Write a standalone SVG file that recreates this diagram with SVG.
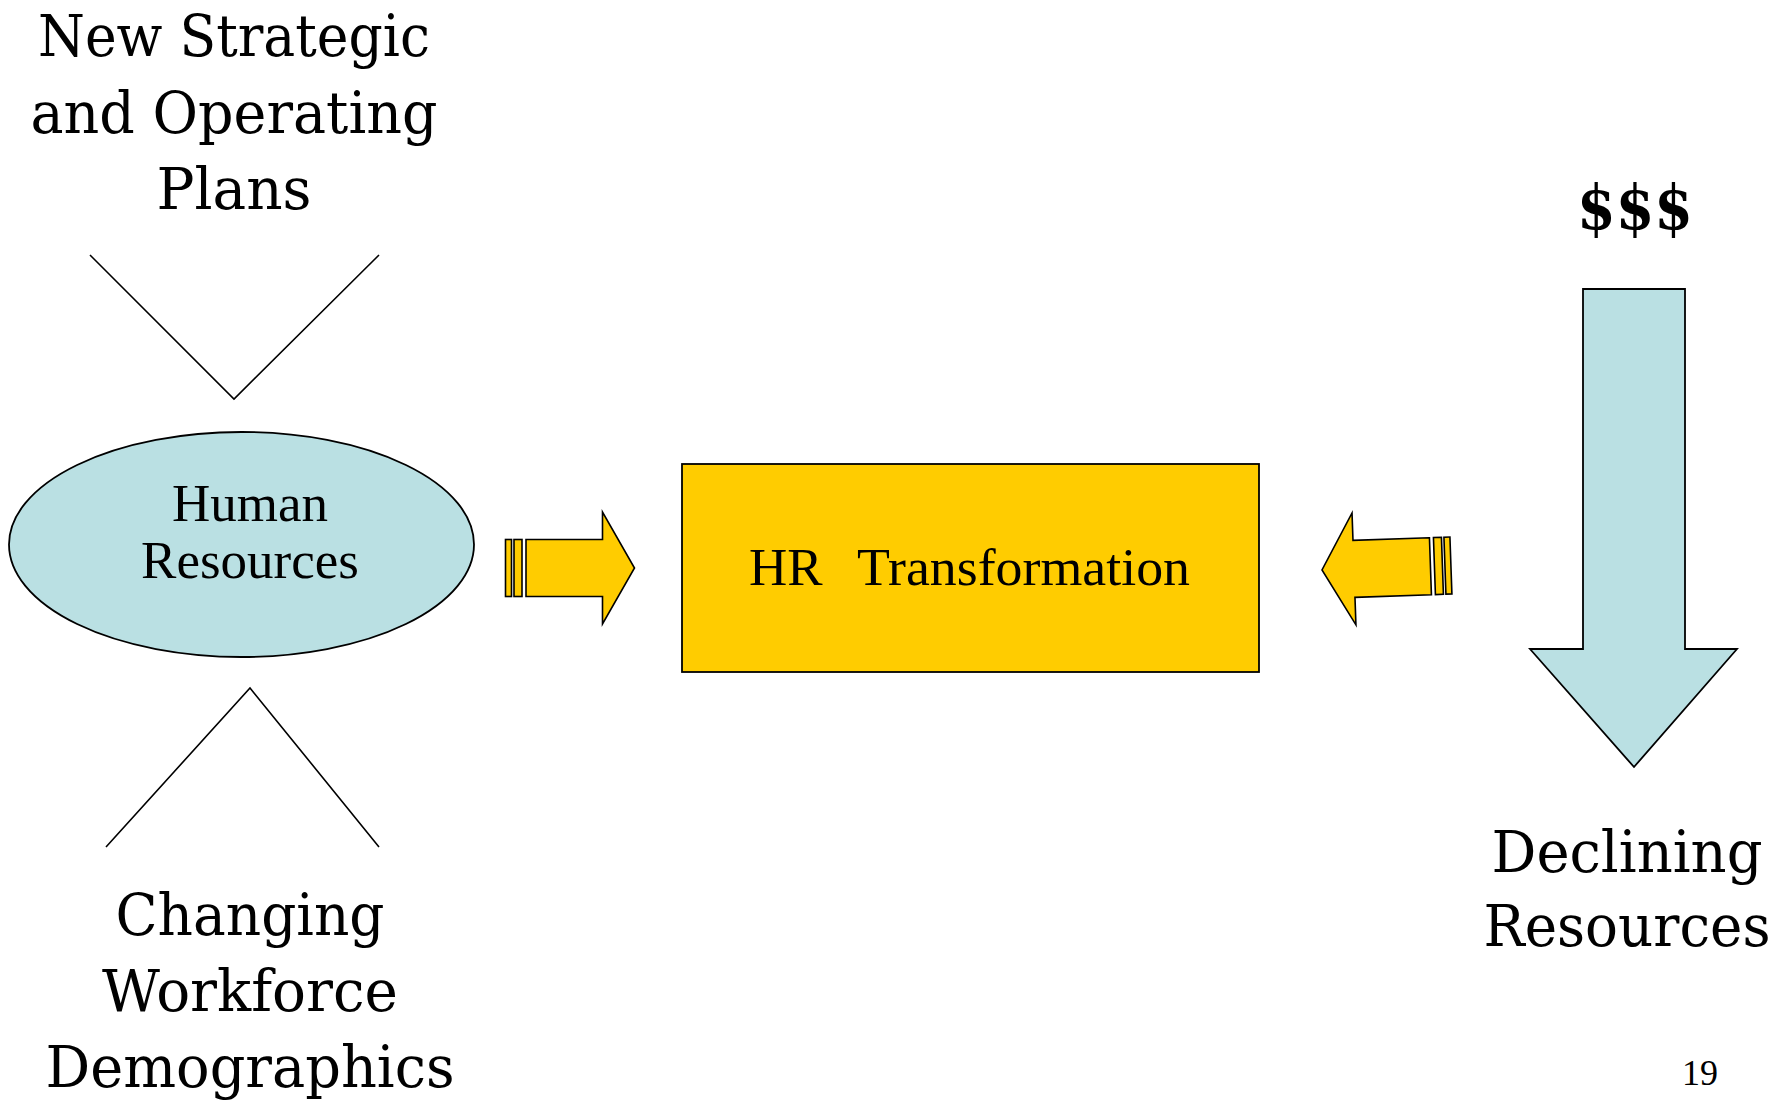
<svg xmlns="http://www.w3.org/2000/svg" width="1788" height="1103" viewBox="0 0 1788 1103">
<style>
.big{font-family:"DejaVu Serif",serif;font-size:57px;fill:#000;text-anchor:middle}
.tm{font-family:"Liberation Serif",serif;font-size:53px;fill:#000}
.ln{fill:none;stroke:#000;stroke-width:1.6}
.yel{fill:#FFCC00;stroke:#000;stroke-width:1.6;stroke-linejoin:miter}
.blu{fill:#BAE0E3;stroke:#000;stroke-width:1.8}
</style>
<defs>
<g id="fatArrow">
<rect x="-129" y="-28.5" width="6" height="57" class="yel"/>
<rect x="-120.5" y="-28.5" width="8" height="57" class="yel"/>
<path d="M-108.5,-28.5 H-32 V-56 L0,0 L-32,56 V28.5 H-108.5 Z" class="yel"/>
</g>
</defs>
<rect width="1788" height="1103" fill="#fff"/>
<g id="plans">
<text class="big" x="234" y="56" textLength="392" lengthAdjust="spacingAndGlyphs">New Strategic</text>
<text class="big" x="234" y="133" textLength="407" lengthAdjust="spacingAndGlyphs">and Operating</text>
<text class="big" x="234" y="209" textLength="155" lengthAdjust="spacingAndGlyphs">Plans</text>
</g>
<g id="demographics">
<text class="big" x="250" y="935" textLength="269" lengthAdjust="spacingAndGlyphs">Changing</text>
<text class="big" x="250" y="1011" textLength="296" lengthAdjust="spacingAndGlyphs">Workforce</text>
<text class="big" x="250" y="1087" textLength="409" lengthAdjust="spacingAndGlyphs">Demographics</text>
</g>
<g id="human-resources">
<ellipse cx="241.5" cy="544.5" rx="232.5" ry="112.5" class="blu"/>
<text class="tm" x="250" y="521" text-anchor="middle">Human</text>
<text class="tm" x="250" y="578" text-anchor="middle">Resources</text>
</g>
<g id="hr-transformation">
<rect x="682" y="464" width="577" height="208" fill="#FFCC00" stroke="#000" stroke-width="1.8"/>
<text class="tm" y="585"><tspan x="749">HR</tspan></text>
<text class="tm" y="585" x="857" textLength="333" lengthAdjust="spacingAndGlyphs">Transformation</text>
</g>
<g id="money">
<text x="1635" y="229" font-family="DejaVu Serif, serif" font-weight="bold" font-size="62" text-anchor="middle" textLength="116" lengthAdjust="spacingAndGlyphs">$$$</text>
</g>
<g id="declining">
<text class="big" x="1627" y="872" textLength="271" lengthAdjust="spacingAndGlyphs">Declining</text>
<text class="big" x="1627" y="946" textLength="287" lengthAdjust="spacingAndGlyphs">Resources</text>
</g>
<g id="page-number">
<text x="1700" y="1085" font-family="Liberation Serif, serif" font-size="36" text-anchor="middle">19</text>
</g>
<g id="connectors">
<polyline points="90,255 234,399 379,255" class="ln"/>
<polyline points="106,847 250,688 379,847" class="ln"/>
<use href="#fatArrow" transform="translate(634.5,568)"/>
<use href="#fatArrow" transform="translate(1322,570) rotate(-2) scale(-1,1)"/>
<path d="M1583,289 H1685 V649 H1737 L1634,767 L1530,649 H1583 Z" class="blu"/>
</g>
</svg>
